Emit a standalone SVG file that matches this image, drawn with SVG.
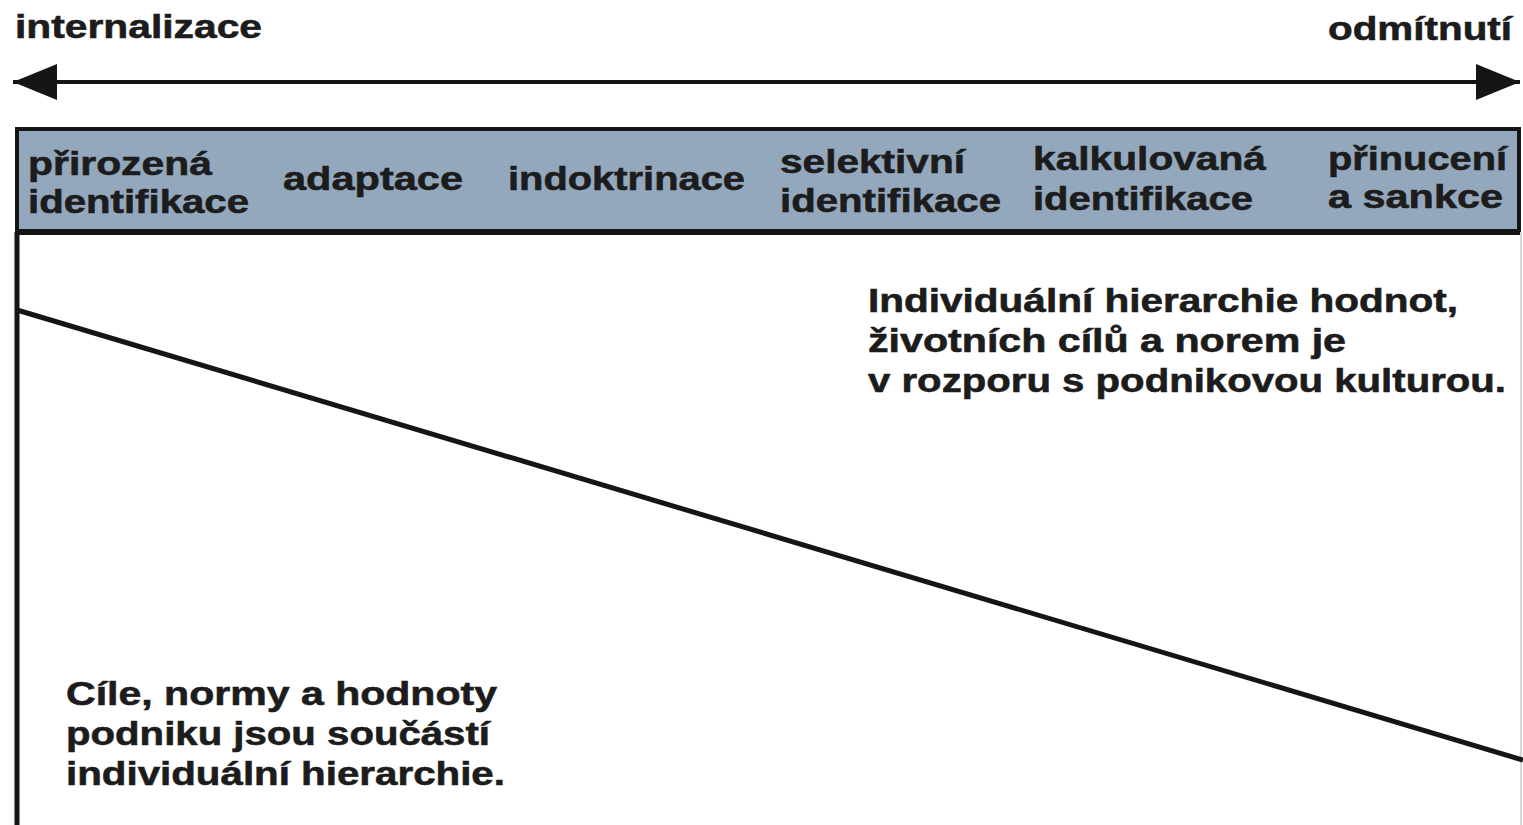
<svg xmlns="http://www.w3.org/2000/svg" width="1523" height="825" viewBox="0 0 1523 825">
<defs>
<style>
text{font-family:"Liberation Sans",Arial,sans-serif;font-weight:bold;fill:#1c1c1c;font-size:34px;stroke:#1c1c1c;stroke-width:0.6}
.ln{stroke:#151515;fill:none}
</style>
<marker id="ah" viewBox="0 0 11 9" refX="11" refY="4.5" markerWidth="11" markerHeight="9" markerUnits="strokeWidth" orient="auto-start-reverse">
<path d="M0,0 L11,4.5 L0,9 Z" fill="#151515"/>
</marker>
</defs>
<rect width="1523" height="825" fill="#ffffff"/>
<g id="scale">
<text x="15" y="38" textLength="247" lengthAdjust="spacingAndGlyphs">internalizace</text>
<text x="1328" y="40" textLength="184" lengthAdjust="spacingAndGlyphs">odmítnutí</text>
</g>
<g id="connectors">
<line class="ln" x1="13" y1="82" x2="1520" y2="82" stroke-width="4" marker-start="url(#ah)" marker-end="url(#ah)"/>
</g>
<g id="header">
<rect x="17" y="129" width="1502" height="103" fill="#93a8bd" stroke="#151515" stroke-width="4"/>
<line class="ln" x1="15" y1="232" x2="1521" y2="232" stroke-width="6"/>
</g>
<g id="stages">
<g id="s1"><text x="28" y="175" textLength="184" lengthAdjust="spacingAndGlyphs">přirozená</text><text x="28" y="213" textLength="221" lengthAdjust="spacingAndGlyphs">identifikace</text></g>
<g id="s2"><text x="283" y="190" textLength="180" lengthAdjust="spacingAndGlyphs">adaptace</text></g>
<g id="s3"><text x="508" y="190" textLength="237" lengthAdjust="spacingAndGlyphs">indoktrinace</text></g>
<g id="s4"><text x="780" y="173" textLength="185" lengthAdjust="spacingAndGlyphs">selektivní</text><text x="780" y="212" textLength="221" lengthAdjust="spacingAndGlyphs">identifikace</text></g>
<g id="s5"><text x="1033" y="170" textLength="233" lengthAdjust="spacingAndGlyphs">kalkulovaná</text><text x="1033" y="210" textLength="220" lengthAdjust="spacingAndGlyphs">identifikace</text></g>
<g id="s6"><text x="1328" y="170" textLength="179" lengthAdjust="spacingAndGlyphs">přinucení</text><text x="1328" y="208" textLength="175" lengthAdjust="spacingAndGlyphs">a sankce</text></g>
</g>
<g id="field">
<line class="ln" x1="17" y1="232" x2="17" y2="825" stroke-width="5"/>
<line x1="1521" y1="232" x2="1521" y2="825" stroke="#d8d8d8" stroke-width="2"/>
<line class="ln" x1="17" y1="310" x2="1523" y2="760" stroke-width="5"/>
</g>
<g id="upper-text">
<text x="868" y="312" textLength="590" lengthAdjust="spacingAndGlyphs">Individuální hierarchie hodnot,</text>
<text x="868" y="352" textLength="478" lengthAdjust="spacingAndGlyphs">životních cílů a norem je</text>
<text x="868" y="392" textLength="638" lengthAdjust="spacingAndGlyphs">v rozporu s podnikovou kulturou.</text>
</g>
<g id="lower-text">
<text x="66" y="705" textLength="431" lengthAdjust="spacingAndGlyphs">Cíle, normy a hodnoty</text>
<text x="66" y="745" textLength="424" lengthAdjust="spacingAndGlyphs">podniku jsou součástí</text>
<text x="66" y="785" textLength="439" lengthAdjust="spacingAndGlyphs">individuální hierarchie.</text>
</g>
</svg>
